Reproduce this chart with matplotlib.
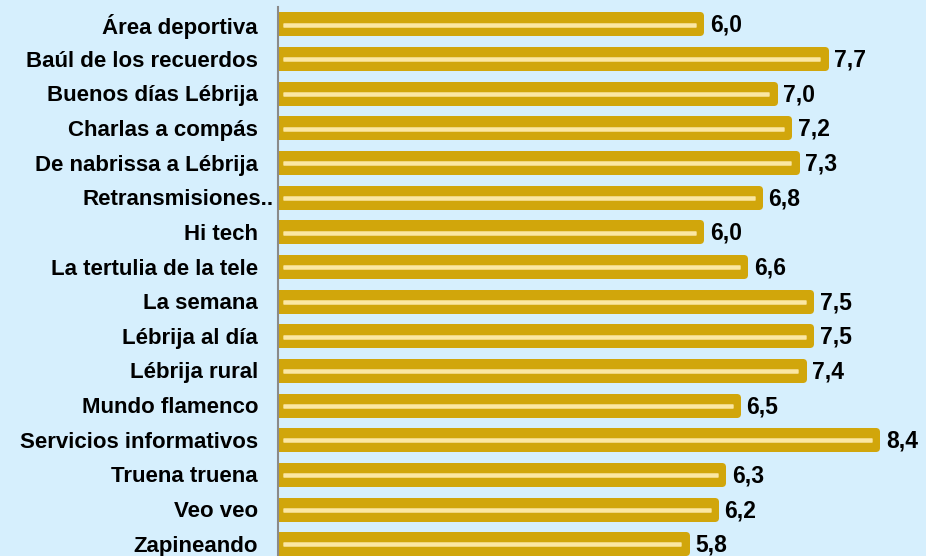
import matplotlib
matplotlib.use("Agg")
import matplotlib.pyplot as plt
import matplotlib.transforms as mtransforms

categories = ["Área deportiva", "Baúl de los recuerdos", "Buenos días Lébrija",
              "Charlas a compás", "De nabrissa a Lébrija", "Retransmisiones..",
              "Hi tech", "La tertulia de la tele", "La semana", "Lébrija al día",
              "Lébrija rural", "Mundo flamenco", "Servicios informativos",
              "Truena truena", "Veo veo", "Zapineando"]
values = [6.0, 7.7, 7.0, 7.2, 7.3, 6.8, 6.0, 6.6, 7.5, 7.5, 7.4, 6.5, 8.4, 6.3, 6.2, 5.8]
value_labels = ["6,0", "7,7", "7,0", "7,2", "7,3", "6,8", "6,0", "6,6",
                "7,5", "7,5", "7,4", "6,5", "8,4", "6,3", "6,2", "5,8"]

BG = "#d6effd"
BAR = "#d1a60b"
HL = "#fbe7a3"
FONT = "Liberation Sans"

fig = plt.figure(figsize=(9.26, 5.56), dpi=100, facecolor=BG)
ax = fig.add_axes([278 / 926, 0, 1 - 278 / 926, (556 - 7) / 556])
ax.set_facecolor(BG)

px_per_unit_x = 73.3
px_per_unit_y = 34.64
edge_px = 7.0                      # rounded outline width (pixels)
edge_pt = edge_px * 72 / 100
n = len(categories)
ypos = list(range(n))
face_h = (24.0 - edge_px) / px_per_unit_y
shrink = (edge_px / 2) / px_per_unit_x
ax.barh(ypos, [v - shrink for v in values], height=face_h, color=BAR,
        edgecolor=BAR, linewidth=edge_pt, joinstyle="round", zorder=2)

# highlight lines
for y, v in zip(ypos, values):
    x0 = 0.19 + 5 / px_per_unit_x
    x1 = v - 8 / px_per_unit_x
    ax.plot([x0, x1], [y + 0.02, y + 0.02], color="#f0d67e", lw=3.6,
            solid_capstyle="butt", zorder=3)
    ax.plot([x0, x1], [y + 0.02, y + 0.02], color=HL, lw=2.2,
            solid_capstyle="butt", zorder=4)

offset = mtransforms.ScaledTranslation(6 / 100, -1.5 / 100, fig.dpi_scale_trans)
for y, v, lab in zip(ypos, values, value_labels):
    ax.text(v, y, lab, ha="left", va="center", fontsize=16.5, fontweight="bold",
            family=FONT, color="black", transform=ax.transData + offset, zorder=5)

ax.set_xlim(0.19, 0.19 + 648 / px_per_unit_x)
ax.set_ylim(n - 1 + 0.355, -0.49)
ax.set_yticks(ypos)
ax.set_yticklabels(categories, fontsize=16, fontweight="bold", family=FONT)
ax.tick_params(axis="y", length=0, pad=14.4)
ax.set_xticks([])
for s in ["top", "right", "bottom"]:
    ax.spines[s].set_visible(False)
ax.spines["left"].set_color("#8a8a8a")
ax.spines["left"].set_linewidth(1.5)
ax.spines["left"].set_zorder(6)

# "Retransmisiones.." sits a bit further right in the reference
lbl = ax.get_yticklabels()[5]
lbl.set_transform(lbl.get_transform() + mtransforms.ScaledTranslation(16 / 100, 0, fig.dpi_scale_trans))

fig.savefig("out.png", dpi=100, facecolor=BG)
